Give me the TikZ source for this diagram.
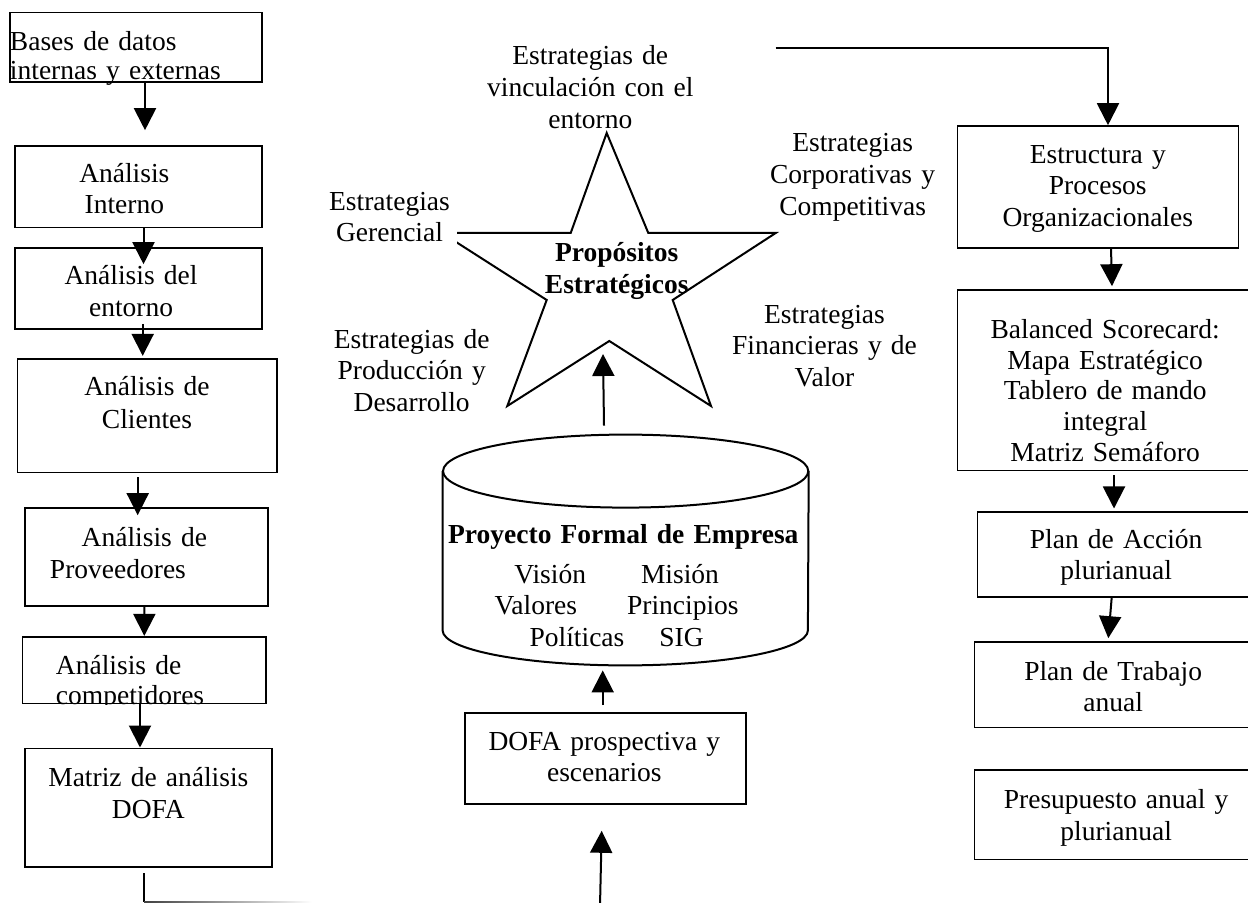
\documentclass[tikz,border=0pt]{standalone}
\usepackage{fontspec}
\setmainfont{Liberation Serif}
\usetikzlibrary{arrows.meta,calc}

\tikzset{
  fs/.style={font=\fontsize{13.75pt}{#1}\selectfont},
  fs/.default=15.85pt,
  fsb/.style={font=\fontsize{13.75pt}{#1}\selectfont\bfseries},
  fsb/.default=15.85pt,
  box/.style={draw, line width=0.8pt, rectangle, inner sep=0pt, align=center, fs},
  dims/.style n args={4}{minimum width=#1, text width=#1, minimum height=#2,
                         text height=#3, text depth=#4},
  lab/.style={inner sep=0pt, align=center, anchor=base, text width=120pt, fs},
  arr/.style={line width=1pt, -{Triangle[length=11pt, width=11pt]}},
  wire/.style={line width=1pt},
  outline/.style={line width=1pt, line join=miter},
}

\begin{document}
\begin{tikzpicture}[x=0.5pt, y=-0.5pt]
\useasboundingbox (0,0) rectangle (1248,903);

% ---------- left column: analysis chain ----------
\node[box, align=left, fs=14.65pt, dims={126pt}{34.65pt}{6pt}{2.65pt}] (bases) at (136,47.35)
  {Bases de datos\\internas y externas};
\node[box, fs=15.3pt, dims={123.35pt}{40.85pt}{6pt}{10.15pt}] (interno) at (138.35,186.85)
  {\hspace*{-14pt}Análisis\\\hspace*{-14pt}Interno};
\node[box, fs=16pt, dims={123.35pt}{40.5pt}{6pt}{9.8pt}] (entorno) at (138.35,288.8)
  {\hspace*{-7.3pt}Análisis del\\\hspace*{-7.3pt}entorno};
\node[box, fs=16.15pt, dims={129.7pt}{56.85pt}{6pt}{25.85pt}] (clientes) at (147,415.85)
  {Análisis de\\Clientes};
\node[box, align=left, fs=16.15pt, dims={121.35pt}{48.85pt}{6pt}{17.15pt}] (proveedores) at (146.35,557.15)
  {\hspace*{28.35pt}Análisis de\\\hspace*{12.5pt}Proveedores};
\begin{scope}
  \clip (0,600) rectangle (320,704.1);
  \node[box, align=left, fs=15pt, dims={121.7pt}{33.3pt}{6pt}{1.7pt}] (competidores) at (144,670)
    {\hspace*{16.85pt}Análisis de\\\hspace*{16.85pt}competidores};
\end{scope}
\node[box, fs=15.8pt, dims={123.35pt}{59.2pt}{6pt}{26.8pt}] (matriz) at (148.35,807.5)
  {Matriz de análisis\\DOFA};

\draw[arr] ($(bases.south)+(9,0)$) -- ($(interno.north)+(6.65,-15)$);
\draw[arr] ($(interno.south)+(5.15,0)$) -- ($(entorno.north)+(5.15,16.7)$);
\draw[arr] ($(entorno.south)+(4.35,-6.3)$) -- ($(clientes.north)+(-4.3,-2.3)$);
\draw[arr] ($(clientes.south)+(-9.3,4)$) -- ($(proveedores.north)+(-8.65,7.7)$);
\draw[arr] ($(proveedores.south)+(-2,0)$) -- ($(competidores.north)+(0.3,0)$);
\draw[arr] ($(competidores.south)+(-4,0)$) -- ($(matriz.north)+(-8.35,0)$);

\coordinate (loopend) at (144,902.3);
\draw[wire] ($(matriz.south)+(-4.35,5.6)$) -- (loopend);
\shade[left color=black!75, right color=white] ($(loopend)+(0,-1.2)$) rectangle (312,903.5);

% ---------- centre: star of strategic purposes ----------
\coordinate (sT)   at (606.7,133);
\coordinate (sIR1) at (648.3,233);
\coordinate (sR)   at (775.7,233);
\coordinate (sIR2) at (672.7,300);
\coordinate (sBR)  at (711,406);
\coordinate (sB)   at (609.3,341);
\coordinate (sBL)  at (507.3,406);
\coordinate (sIL2) at (546.7,300);
\coordinate (sL)   at (442,233);
\coordinate (sIL1) at (570.7,233);
\draw[outline] (sT) -- (sIR1) -- (sR) -- (sIR2) -- (sBR) -- (sB) -- (sBL)
  -- (sIL2) -- (sL) -- (sIL1) -- cycle;

\node[lab, fsb=15.8pt] (prop) at (616.7,261.7) {Propósitos\\Estratégicos};

\node[lab] (vinc) at (590.3,65) {Estrategias de\\vinculación con el\\entorno};
\node[lab, fs=15.35pt, text width=67.5pt, fill=white, text height=10pt, text depth=20pt]
  (gerencial) at (389.5,211) {Estrategias\\Gerencial};
\node[lab] (produccion) at (411.7,348.3) {Estrategias de\\Producción y\\Desarrollo};
\node[lab] (corporativas) at (852.6,151.7) {Estrategias\\Corporativas y\\Competitivas};
\node[lab] (financieras) at (824.5,323.3) {Estrategias\\Financieras y de\\Valor};

% ---------- centre: company project cylinder and DOFA ----------
\node[inner sep=0pt, align=center, fs, dims={182.65pt}{115pt}{6pt}{12pt}] (pfe) at (625.65,550)
  {\hspace*{-2.35pt}\textbf{Proyecto Formal de Empresa}\\[3.8pt]%
   \hspace*{-9pt}Visión\hspace{27.5pt}Misión\\%
   \hspace*{-9pt}Valores\hspace{25pt}Principios\\%
   \hspace*{-9pt}Políticas\hspace{17.5pt}SIG};
\draw[wire] ($(pfe.north)+(0,36.5)$) ellipse [x radius=91.325pt, y radius=18.25pt];
\draw[wire] ($(pfe.north west)+(0,36.5)$) -- ($(pfe.south west)+(0,-35)$)
  arc[start angle=180, end angle=360, x radius=91.325pt, y radius=17.5pt]
  -- ($(pfe.north east)+(0,36.5)$);

\node[box, dims={140.35pt}{45.65pt}{6pt}{14.35pt}] (dofa) at (605.35,758.35)
  {\hspace*{-1pt}DOFA prospectiva y\\\hspace*{-1pt}escenarios};

\coordinate (dofain) at (600,906);
\draw[arr] (dofain) -- ($(dofa.south)+(-3.65,26)$);
\draw[arr] ($(dofa.north)+(-2.65,-6.7)$) -- ($(pfe.south)+(-22.95,5)$);
\draw[arr] ($(pfe.north)+(-21.65,-9)$) -- ($(sB)+(-6.3,13)$);

% ---------- right column: deployment ----------
\node[box, dims={140.5pt}{61.15pt}{6pt}{29.85pt}] (estructura) at (1097.8,187.15)
  {Estructura y\\Procesos\\Organizacionales};
\node[box, fs=15.4pt, dims={147.85pt}{90.35pt}{6pt}{48.05pt}] (balanced) at (1105.15,380.35)
  {Balanced Scorecard:\\Mapa Estratégico\\Tablero de mando\\integral\\Matriz Semáforo};
\node[box, dims={138.85pt}{42.2pt}{6pt}{12.2pt}] (accion) at (1116.15,554.5)
  {Plan de Acción\\plurianual};
\node[box, fs=15.5pt, dims={138.85pt}{42.8pt}{6pt}{10.5pt}] (trabajo) at (1113.15,684.5)
  {Plan de Trabajo\\anual};
\node[box, dims={141.85pt}{44.65pt}{6pt}{12.35pt}] (presupuesto) at (1116.15,814.65)
  {Presupuesto anual y\\plurianual};

\coordinate (topstart) at (775.7,47.7);
\draw[arr] (topstart) -| ($(estructura.north)+(10.2,0)$);
\draw[arr] ($(estructura.south)+(13.2,-1.3)$) -- ($(balanced.north)+(6.85,-3)$);
\draw[arr] ($(balanced.south)+(8.85,4)$) -- ($(accion.north)+(-2.15,-3)$);
\draw[arr] ($(accion.south)+(-4.45,0)$) -- ($(trabajo.north)+(-4.85,-2.7)$);

\end{tikzpicture}
\end{document}
